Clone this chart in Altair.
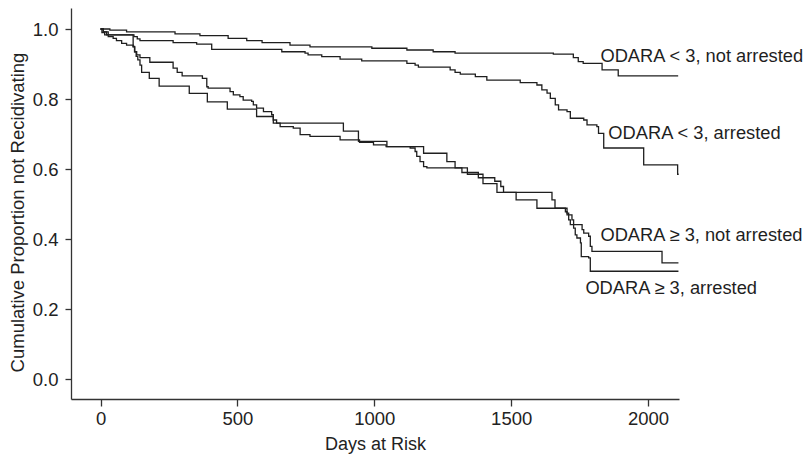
import altair as alt
import pandas as pd

series_names = [
    "ODARA < 3, not arrested",
    "ODARA < 3, arrested",
    "ODARA ≥ 3, not arrested",
    "ODARA ≥ 3, arrested",
]

# (day, cumulative proportion not recidivating) step points
a_steps = [(0, 1.0), (34, 0.997), (95, 0.992), (272, 0.986), (363, 0.981), (466, 0.973),
           (534, 0.967), (590, 0.961), (692, 0.954), (765, 0.949), (991, 0.945), (1119, 0.940),
           (1215, 0.935), (1295, 0.931), (1654, 0.928), (1727, 0.918), (1745, 0.907),
           (1763, 0.902), (1832, 0.883), (1891, 0.866), (2110, 0.866)]

b_steps = [(0, 1.0), (10, 0.992), (22, 0.983), (122, 0.978), (134, 0.972), (144, 0.967),
           (265, 0.961), (351, 0.957), (406, 0.942), (662, 0.935), (747, 0.931), (758, 0.926),
           (808, 0.921), (875, 0.914), (954, 0.909), (1119, 0.902), (1149, 0.897), (1161, 0.891),
           (1277, 0.883), (1295, 0.876), (1314, 0.871), (1369, 0.864), (1411, 0.854),
           (1533, 0.847), (1594, 0.840), (1612, 0.826), (1631, 0.817), (1643, 0.802),
           (1661, 0.783), (1673, 0.769), (1704, 0.764), (1716, 0.745), (1765, 0.740),
           (1777, 0.726), (1813, 0.721), (1819, 0.702), (1838, 0.660), (1984, 0.612),
           (2108, 0.585), (2112, 0.585)]

c_steps = [(0, 1.0), (5, 0.99), (15, 0.983), (119, 0.95), (124, 0.935), (130, 0.922),
           (136, 0.912), (144, 0.897), (150, 0.876), (178, 0.859), (214, 0.837), (324, 0.816),
           (390, 0.792), (463, 0.771), (570, 0.750), (631, 0.731), (887, 0.708), (942, 0.679),
           (1046, 0.664), (1180, 0.645), (1265, 0.621), (1295, 0.603), (1340, 0.585),
           (1397, 0.558), (1448, 0.533), (1649, 0.512), (1660, 0.488), (1698, 0.478),
           (1704, 0.469), (1722, 0.455), (1728, 0.441), (1759, 0.427), (1765, 0.417),
           (1783, 0.408), (1789, 0.379), (1795, 0.365), (2051, 0.332), (2111, 0.332)]

d_steps = [(0, 1.0), (10, 0.992), (28, 0.978), (46, 0.973), (58, 0.967), (77, 0.959),
           (95, 0.954), (119, 0.949), (125, 0.935), (132, 0.926), (144, 0.918), (180, 0.905),
           (265, 0.888), (280, 0.876), (298, 0.866), (372, 0.859), (388, 0.835), (393, 0.831),
           (473, 0.821), (485, 0.812), (509, 0.807), (521, 0.797), (552, 0.793), (558, 0.783),
           (570, 0.774), (595, 0.764), (625, 0.755), (631, 0.740), (643, 0.731), (656, 0.721),
           (704, 0.717), (729, 0.698), (765, 0.693), (875, 0.683), (946, 0.676), (997, 0.669),
           (1043, 0.664), (1131, 0.660), (1149, 0.650), (1155, 0.636), (1167, 0.621),
           (1180, 0.607), (1192, 0.603), (1320, 0.590), (1380, 0.575), (1440, 0.565),
           (1462, 0.550), (1472, 0.533), (1518, 0.512), (1594, 0.488), (1704, 0.474),
           (1710, 0.455), (1716, 0.441), (1728, 0.431), (1734, 0.412), (1740, 0.403),
           (1753, 0.389), (1756, 0.350), (1783, 0.346), (1789, 0.308), (2111, 0.308)]

label_days = [1826, 1855, 1826, 1771]
label_surv = [0.905, 0.685, 0.393, 0.244]

x_ticks = [0, 500, 1000, 1500, 2000]
y_ticks = [0.0, 0.2, 0.4, 0.6, 0.8, 1.0]

rows = []
for name, steps in zip(series_names, [a_steps, b_steps, c_steps, d_steps]):
    for d, s in steps:
        rows.append({"series": name, "day": d, "surv": s})
curves = pd.DataFrame(rows)
labels = pd.DataFrame({"day": label_days, "surv": label_surv, "text": series_names})

FONT = "Liberation Sans"
INK = "#1f1f1f"
x_scale = alt.Scale(domain=[-108, 2113], nice=False, zero=False)
y_scale = alt.Scale(domain=[-0.057, 1.06], nice=False, zero=False)

lines = alt.Chart(curves).mark_line(
    interpolate="step-after", color=INK, strokeWidth=1.3
).encode(
    x=alt.X("day:Q", scale=x_scale,
            axis=alt.Axis(values=x_ticks, format="d", title="Days at Risk",
                          tickSize=7, labelPadding=3, titleY=50, titleFontSize=18,
                          titleBaseline="alphabetic")),
    y=alt.Y("surv:Q", scale=y_scale,
            axis=alt.Axis(values=y_ticks, format=".1f",
                          title="Cumulative Proportion not Recidivating",
                          tickSize=6, labelPadding=7, titleX=-48, titleY=204,
                          titleAngle=270, titleBaseline="alphabetic")),
    detail="series:N",
)

text = alt.Chart(labels).mark_text(
    align="left", baseline="alphabetic", fontSize=18.3, font=FONT, color=INK
).encode(
    x=alt.X("day:Q", scale=x_scale),
    y=alt.Y("surv:Q", scale=y_scale),
    text="text:N",
)

chart = alt.layer(lines, text).properties(
    width=608, height=391,
    autosize=alt.AutoSizeParams(type="none"),
    padding={"left": 63, "top": 0, "right": 124, "bottom": 55},
    background="white",
).configure_view(stroke=None).configure_axis(
    grid=False,
    domainColor="#333333", domainWidth=1.3,
    tickColor="#333333", tickWidth=1.3,
    labelFont=FONT, labelFontSize=18.5, labelColor="#222222",
    titleFont=FONT, titleFontSize=18.5, titleFontWeight="normal", titleColor="#222222",
)

chart.save("out.html", embed_options={"renderer": "svg", "actions": False})
